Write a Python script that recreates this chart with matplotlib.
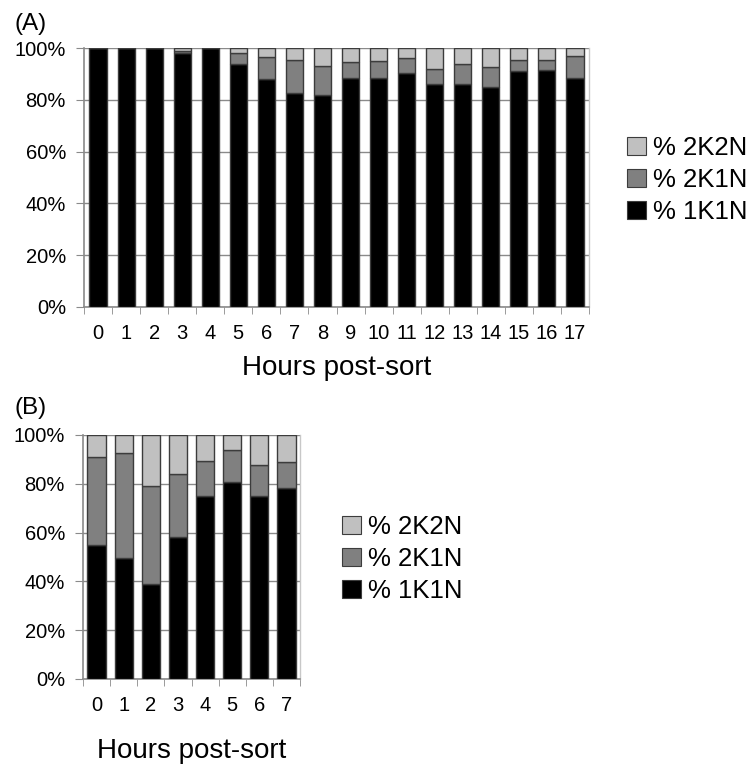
import numpy as np
import matplotlib
matplotlib.use('Agg')
import matplotlib.pyplot as plt
from matplotlib.patches import Patch

plt.rcParams['font.family'] = ['Liberation Sans', 'DejaVu Sans']

# ---------------- data ----------------
hours_a = [str(h) for h in range(18)]
a_1k1n = [100, 100, 100, 98, 100, 94, 88, 82.5, 82, 88.5, 88.5, 90.5, 86, 86, 85, 91, 91.5, 88.5]
a_2k1n = [0, 0, 0, 1, 0, 4, 8.5, 13, 11, 6, 6.5, 5.5, 6, 8, 7.5, 4.5, 4, 8.5]
a_2k2n = [0, 0, 0, 1, 0, 2, 3.5, 4.5, 7, 5.5, 5, 4, 8, 6, 7.5, 4.5, 4.5, 3]

hours_b = [str(h) for h in range(8)]
b_1k1n = [55, 49.5, 39, 58, 75, 80.6, 75, 78.2]
b_2k1n = [36, 43.3, 40, 26, 14.3, 13.3, 12.7, 10.6]
b_2k2n = [9, 7.2, 21, 16, 10.7, 6.1, 12.3, 11.2]

series_names = ['% 1K1N', '% 2K1N', '% 2K2N']
colors = ['#000000', '#808080', '#c0c0c0']

W, H = 752, 771
fig = plt.figure(figsize=(W / 100, H / 100), dpi=100)


def ax_px(l, r, t, b):
    return fig.add_axes([l / W, 1 - b / H, (r - l) / W, (b - t) / H])


def draw(ax, hours, s1, s2, s3, width, leg_x, leg_y):
    n = len(hours)
    x = np.arange(n)
    s1 = np.array(s1, float)
    s2 = np.array(s2, float)
    s3 = np.array(s3, float)
    ek = dict(edgecolor='#3c3c3c', linewidth=1.0, zorder=3)
    ax.bar(x, s1, width, color=colors[0], **ek)
    ax.bar(x, s2, width, bottom=s1, color=colors[1], **ek)
    ax.bar(x, s3, width, bottom=s1 + s2, color=colors[2], **ek)
    ax.set_xlim(-0.5, n - 0.5)
    ax.set_ylim(0, 100)
    yt = list(range(0, 101, 20))
    ax.set_yticks(yt, labels=[f'{v}%' for v in yt])
    ax.yaxis.grid(True, color='#8a8a8a', linewidth=1.0)
    ax.set_axisbelow(True)
    ax.spines['top'].set_visible(False)
    for s in ['left', 'bottom']:
        ax.spines[s].set_color('#8a8a8a')
        ax.spines[s].set_linewidth(1.2)
    ax.spines['right'].set_color('#c8c8c8')
    ax.spines['right'].set_linewidth(1.0)
    ax.set_xticks(x, labels=hours)
    ax.set_xticks(np.arange(-0.5, n), minor=True)
    ax.tick_params(axis='x', which='major', length=0, pad=12, labelsize=14.5)
    ax.tick_params(axis='x', which='minor', length=5, color='#8a8a8a', direction='out')
    ax.tick_params(axis='y', length=6, color='#8a8a8a', direction='out', pad=7, labelsize=14.5)
    handles = [Patch(facecolor=colors[i], edgecolor='#3c3c3c', linewidth=0.8) for i in (2, 1, 0)]
    labels = [series_names[i] for i in (2, 1, 0)]
    fig.legend(handles, labels, loc='center left',
               bbox_to_anchor=(leg_x / W, 1 - leg_y / H), frameon=False,
               fontsize=18.5, handlelength=0.75, handleheight=0.7,
               handletextpad=0.25, labelspacing=0.3, borderpad=0, borderaxespad=0)


axA = ax_px(84, 589, 48, 307)
draw(axA, hours_a, a_1k1n, a_2k1n, a_2k2n, 0.61, 627, 180)
axB = ax_px(83, 300, 435, 679)
draw(axB, hours_b, b_1k1n, b_2k1n, b_2k2n, 0.67, 342, 559)

fig.text((84 + 589) / 2 / W, 1 - 368 / H, 'Hours post-sort', ha='center', va='center', fontsize=20)
fig.text((83 + 300) / 2 / W, 1 - 751 / H, 'Hours post-sort', ha='center', va='center', fontsize=20)
fig.text(31 / W, 1 - 24 / H, '(A)', ha='center', va='center', fontsize=17.5)
fig.text(31 / W, 1 - 408 / H, '(B)', ha='center', va='center', fontsize=17.5)

fig.savefig('out.png', dpi=100)
